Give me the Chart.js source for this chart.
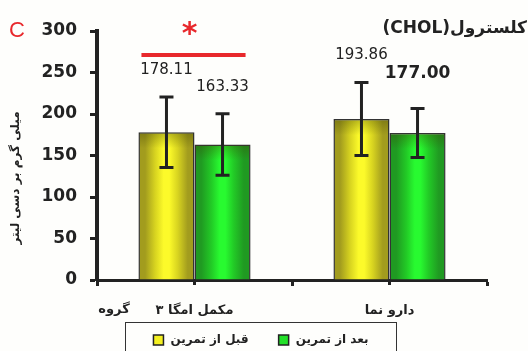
<!DOCTYPE html>
<html><head><meta charset="utf-8">
<script src="https://cdn.jsdelivr.net/npm/chart.js@4/dist/chart.umd.min.js"></script>
<style>html,body{margin:0;padding:0;background:#fefefc}canvas{display:block}</style>
</head><body>
<canvas id="c" width="528" height="351"></canvas>
<script>
// Cholesterol (CHOL) before / after training, per group
const groups = ['مکمل امگا ۳', 'دارو نما'];
const seriesNames = ['قبل از تمرین', 'بعد از تمرین'];
const beforeMeans = [178.11, 193.86];
const afterMeans = [163.33, 177.00];
const beforeSD = [42.5, 44];
const afterSD = [37, 29.5];
const yTicks = [0, 50, 100, 150, 200, 250, 300];
const sigLevel = 271;          // height of the significance bracket
const boldValue = [[false, false], [false, true]];

const CAT_PCT = 0.575;
const INK = '#222';
const FONT = "'DejaVu Sans', sans-serif";

function barFill(stops) {
  return (c) => {
    const ch = c.chart, xs = ch.scales.x;
    if (c.type !== 'data' || !xs || !ch.chartArea) return stops[2];
    const center = xs.getPixelForValue(c.dataIndex);
    const bw = (xs.right - xs.left) / groups.length * CAT_PCT / 2;
    const left = center - bw + c.datasetIndex * bw;
    const g = ch.ctx.createLinearGradient(left, 0, left + bw, 0);
    g.addColorStop(0, stops[0]);
    g.addColorStop(0.12, stops[0]);
    g.addColorStop(0.3, stops[1]);
    g.addColorStop(0.45, stops[2]);
    g.addColorStop(0.55, stops[2]);
    g.addColorStop(0.7, stops[1]);
    g.addColorStop(0.88, stops[0]);
    g.addColorStop(1, stops[0]);
    return g;
  };
}

const decorations = {
  id: 'decorations',
  afterDatasetsDraw(chart) {
    const { ctx, scales: { x, y } } = chart;
    ctx.save();
    chart.data.datasets.forEach((ds, di) => {
      const meta = chart.getDatasetMeta(di);
      meta.data.forEach((el, i) => {
        const v = ds.data[i], sd = ds.sd[i];
        const w = el.width;
        // top bevel shading
        const top = el.y;
        const sh = ctx.createLinearGradient(0, top, 0, top + 16);
        sh.addColorStop(0, 'rgba(60,60,0,0.35)');
        sh.addColorStop(1, 'rgba(60,60,0,0)');
        ctx.fillStyle = sh;
        ctx.fillRect(el.x - w / 2 + 1, top + 1, w - 2, 16);
        // error bar
        const yt = y.getPixelForValue(v + sd), yb = y.getPixelForValue(v - sd);
        ctx.strokeStyle = INK; ctx.lineWidth = 3; ctx.lineCap = 'butt';
        ctx.beginPath();
        ctx.moveTo(el.x, yt); ctx.lineTo(el.x, yb);
        ctx.moveTo(el.x - 7, yt); ctx.lineTo(el.x + 7, yt);
        ctx.moveTo(el.x - 7, yb); ctx.lineTo(el.x + 7, yb);
        ctx.stroke();
        // value label
        const b = boldValue[di][i];
        ctx.font = (b ? 'bold 17px ' : '15px ') + FONT;
        ctx.fillStyle = INK; ctx.textAlign = 'center'; ctx.textBaseline = 'middle';
        ctx.fillText(v.toFixed(2), el.x, yt - (b ? 35 : 27));
      });
    });
    // small ticks where the paired bars meet
    ctx.strokeStyle = INK; ctx.lineWidth = 3;
    ctx.beginPath();
    groups.forEach((g, i) => {
      const px = x.getPixelForValue(i);
      ctx.moveTo(px, y.bottom); ctx.lineTo(px, y.bottom + 5);
    });
    ctx.stroke();
    ctx.restore();
  },
  afterDraw(chart) {
    const { ctx, scales: { x, y } } = chart;
    ctx.save();
    // significance bracket over the first group
    const m0 = chart.getDatasetMeta(0).data[0], m1 = chart.getDatasetMeta(1).data[0];
    const xl = m0.x - m0.width / 2 + 3, xr = m1.x + m1.width / 2 - 5;
    const ys = y.getPixelForValue(sigLevel);
    ctx.strokeStyle = '#e8282c'; ctx.lineWidth = 4;
    ctx.beginPath(); ctx.moveTo(xl, ys); ctx.lineTo(xr, ys); ctx.stroke();
    ctx.fillStyle = '#e8282c'; ctx.textAlign = 'center'; ctx.textBaseline = 'middle';
    ctx.font = 'bold 30px ' + FONT;
    ctx.fillText('*', (xl + xr) / 2 - 4, 35);
    // panel letter
    ctx.font = "22px 'Liberation Sans', sans-serif";
    ctx.fillText('C', 17, 31);
    // title
    ctx.fillStyle = INK; ctx.textAlign = 'right'; ctx.direction = 'ltr';
    ctx.font = 'bold 17px ' + FONT;
    ctx.fillText('(CHOL)کلسترول', 527, 29);
    // group caption
    ctx.textAlign = 'center';
    ctx.font = 'bold 13px ' + FONT;
    ctx.fillText('گروه', 114, 310);
    // y axis title
    ctx.save();
    ctx.translate(16, 178);
    ctx.rotate(-Math.PI / 2);
    ctx.font = 'bold 12px ' + FONT;
    ctx.fillText('میلی گرم بر دسی لیتر', 0, 0);
    ctx.restore();
    // legend
    ctx.font = 'bold 12px ' + FONT;
    const box = 10, gapBox = 7, gapItem = 30;
    const widths = seriesNames.map(s => ctx.measureText(s).width);
    const inner = widths.reduce((a, w) => a + box + gapBox + w, 0) + gapItem;
    const lw = inner + 56, lx = 261 - lw / 2, ly = 322;
    ctx.strokeStyle = '#333'; ctx.lineWidth = 1;
    ctx.strokeRect(Math.round(lx) + 0.5, ly + 0.5, Math.round(lw), 60);
    let cx = lx + 28;
    const cy = 340;
    const swatch = ['#f4f020', '#22e028'];
    seriesNames.forEach((s, k) => {
      ctx.fillStyle = swatch[k];
      ctx.fillRect(cx, cy - box / 2, box, box);
      ctx.strokeStyle = INK; ctx.lineWidth = 1.5;
      ctx.strokeRect(cx, cy - box / 2, box, box);
      ctx.fillStyle = INK; ctx.textAlign = 'left'; ctx.textBaseline = 'middle';
      ctx.fillText(s, cx + box + gapBox, cy);
      cx += box + gapBox + widths[k] + gapItem;
    });
    ctx.restore();
  }
};

new Chart(document.getElementById('c'), {
  type: 'bar',
  data: {
    labels: groups,
    datasets: [
      { label: seriesNames[0], data: beforeMeans, sd: beforeSD,
        backgroundColor: barFill(['#a29c1e', '#d8d420', '#fcfa2a']),
        borderColor: '#333', borderWidth: 1.5 },
      { label: seriesNames[1], data: afterMeans, sd: afterSD,
        backgroundColor: barFill(['#209a22', '#22ca26', '#28fa30']),
        borderColor: '#333', borderWidth: 1.5 }
    ]
  },
  options: {
    responsive: false,
    animation: false,
    devicePixelRatio: 1,
    categoryPercentage: CAT_PCT,
    barPercentage: 1,
    layout: { padding: { top: 31, right: 41, left: 0, bottom: 0 } },
    plugins: { legend: { display: false }, tooltip: { enabled: false } },
    scales: {
      y: {
        min: 0, max: 300,
        afterBuildTicks: (s) => { s.ticks = yTicks.map(v => ({ value: v })); },
        afterFit: (s) => { s.width = 97; },
        ticks: { font: { family: FONT, size: 17, weight: 'bold' }, color: INK, padding: 13 },
        grid: { drawOnChartArea: false, drawTicks: true, tickLength: 7, tickWidth: 3, tickColor: INK },
        border: { color: INK, width: 4 }
      },
      x: {
        afterFit: (s) => { s.height = 71; },
        ticks: { font: { family: FONT, size: 13, weight: 'bold' }, color: INK, padding: 17 },
        grid: { offset: true, drawOnChartArea: false, drawTicks: true, tickLength: 6, tickWidth: 3, tickColor: INK },
        border: { color: INK, width: 3 }
      }
    }
  },
  plugins: [decorations]
});
</script>
</body></html>
